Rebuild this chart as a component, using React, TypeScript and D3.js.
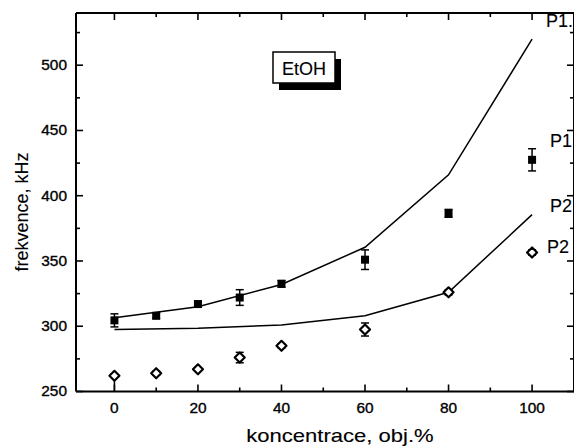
import React from "react";
import * as d3 from "d3";

const conc = [0, 10, 20, 30, 40, 60, 80, 100];
const p1Measured = [304.5, 308, 317, 322, 332.5, 351, 386.5, 427.5];
const p1Err = [5, 2, 2, 6, 2.5, 7.5, 3, 8.5];
const p2Measured = [262, 264, 267, 276, 285, 297.5, 326, 356.5];
const p2ErrLow = [12, 1.5, 1, 4, 1.5, 5, 2, 2];
const p2ErrHigh = [0, 1.5, 1, 4, 1.5, 5, 2, 2];

const lineX = [0, 20, 40, 60, 80, 100];
const p1Line = [306.5, 315, 332, 360.5, 416, 520];
const p2Line = [297.5, 298.5, 301, 308, 326, 385.5];

const xMajor = [0, 20, 40, 60, 80, 100];
const xMinor = [10, 30, 50, 70, 90];
const yMajor = [250, 300, 350, 400, 450, 500];
const yMinor = [275, 325, 375, 425, 475, 525];

const labels = [
  { text: "P1.", y: 27, x: 546 },
  { text: "P1", y: 147, x: 550 },
  { text: "P2", y: 212, x: 550 },
  { text: "P2", y: 253, x: 547 },
];

const W = 574;
const H = 446;
const L = 76, R = 574, T = 13, B = 391.5;

export default function App() {
  const x = d3.scaleLinear().domain([-9.2, 109.8]).range([L, 573]);
  const y = d3.scaleLinear().domain([250, 540]).range([B, T]);
  const line = d3
    .line<number>()
    .x((_, i) => x(lineX[i]))
    .y((d) => y(d));
  const font = "'Liberation Sans', Arial, sans-serif";
  const diamond = (cx: number, cy: number) =>
    `M${cx},${cy - 5}L${cx + 5},${cy}L${cx},${cy + 5}L${cx - 5},${cy}Z`;
  const heavy = { stroke: "#000", strokeWidth: 0.35 };
  const light = { stroke: "#000", strokeWidth: 0.12 };

  return (
    <svg
      width={W}
      height={H}
      style={{ position: "absolute", left: 0, top: 0, background: "#fff" }}
      fontFamily={font}
    >
      <rect x={0} y={0} width={W} height={H} fill="#fff" />
      {/* data lines */}
      <path d={line(p1Line) || ""} fill="none" stroke="#000" strokeWidth={1.5} />
      <path d={line(p2Line) || ""} fill="none" stroke="#000" strokeWidth={1.5} />

      {/* P1 error bars and squares */}
      {conc.map((c, i) => {
        const cx = x(c);
        const y1 = y(p1Measured[i] + p1Err[i]);
        const y2 = y(p1Measured[i] - p1Err[i]);
        return (
          <g key={"p1" + i} stroke="#000" strokeWidth={1.5}>
            <line x1={cx} x2={cx} y1={y1} y2={y2} />
            <line x1={cx - 4} x2={cx + 4} y1={y1} y2={y1} />
            <line x1={cx - 4} x2={cx + 4} y1={y2} y2={y2} />
            <rect
              x={cx - 4}
              y={y(p1Measured[i]) - 4}
              width={8}
              height={8}
              fill="#000"
              stroke="none"
            />
          </g>
        );
      })}

      {/* P2 error bars and diamonds */}
      {conc.map((c, i) => {
        const cx = x(c);
        const y1 = y(p2Measured[i] + p2ErrHigh[i]);
        const y2 = y(p2Measured[i] - p2ErrLow[i]);
        return (
          <g key={"p2" + i} stroke="#000" strokeWidth={1.5}>
            <line x1={cx} x2={cx} y1={y1} y2={y2} />
            {p2ErrHigh[i] > 0 && (
              <line x1={cx - 4} x2={cx + 4} y1={y1} y2={y1} />
            )}
            {p2ErrLow[i] > 0 && p2ErrLow[i] < 10 && (
              <line x1={cx - 4} x2={cx + 4} y1={y2} y2={y2} />
            )}
            <path
              d={diamond(cx, y(p2Measured[i]))}
              fill="#fff"
              strokeWidth={2.2}
              strokeLinejoin="round"
            />
          </g>
        );
      })}

      {/* axes frame */}
      <g stroke="#000" strokeWidth={2} fill="none">
        <line x1={L} x2={R} y1={B} y2={B} />
        <line x1={L} x2={R} y1={T} y2={T} />
        <line x1={L} x2={L} y1={T} y2={B} />
        <line x1={R} x2={R} y1={T} y2={B} />
      </g>
      <g stroke="#000" strokeWidth={1.6}>
        {xMajor.map((v) => (
          <g key={"xM" + v}>
            <line x1={x(v)} x2={x(v)} y1={B} y2={B - 7} />
            <line x1={x(v)} x2={x(v)} y1={T} y2={T + 7} />
          </g>
        ))}
        {xMinor.map((v) => (
          <g key={"xm" + v}>
            <line x1={x(v)} x2={x(v)} y1={B} y2={B - 4} />
            <line x1={x(v)} x2={x(v)} y1={T} y2={T + 4} />
          </g>
        ))}
        {yMajor.map((v) => (
          <g key={"yM" + v}>
            <line x1={L} x2={L + 7} y1={y(v)} y2={y(v)} />
            <line x1={R} x2={R - 7} y1={y(v)} y2={y(v)} />
          </g>
        ))}
        {yMinor.map((v) => (
          <g key={"ym" + v}>
            <line x1={L} x2={L + 4} y1={y(v)} y2={y(v)} />
            <line x1={R} x2={R - 4} y1={y(v)} y2={y(v)} />
          </g>
        ))}
      </g>

      {/* tick labels */}
      {xMajor.map((v) => (
        <text
          key={"xl" + v}
          x={x(v)}
          y={413}
          textAnchor="middle"
          fontSize={14}
          {...heavy}
          transform={`translate(${x(v)},0) scale(1.1,1) translate(${-x(v)},0)`}
        >
          {v}
        </text>
      ))}
      {yMajor.map((v) => (
        <text
          key={"yl" + v}
          x={67}
          y={y(v) + 5}
          textAnchor="end"
          fontSize={14}
          {...heavy}
          transform={`translate(67,0) scale(1.1,1) translate(-67,0)`}
        >
          {v}
        </text>
      ))}

      {/* axis titles */}
      <text
        x={340}
        y={442}
        textAnchor="middle"
        fontSize={19}
        {...light}
        transform="translate(340,0) scale(1.16,1) translate(-340,0)"
      >
        koncentrace, obj.%
      </text>
      <text
        transform="translate(28,212) rotate(-90)"
        textAnchor="middle"
        fontSize={18}
        {...light}
      >
        frekvence, kHz
      </text>

      {/* EtOH box */}
      <rect x={279} y={59} width={62} height={31} fill="#000" />
      <rect x={273} y={52} width={62} height={31} fill="#fff" stroke="#000" strokeWidth={1.5} />
      <text x={304} y={74.5} textAnchor="middle" fontSize={18} {...light}>
        EtOH
      </text>

      {/* series labels */}
      {labels.map((l, i) => (
        <text key={"lab" + i} x={l.x} y={l.y} fontSize={18} {...light}>
          {l.text}
        </text>
      ))}
    </svg>
  );
}
